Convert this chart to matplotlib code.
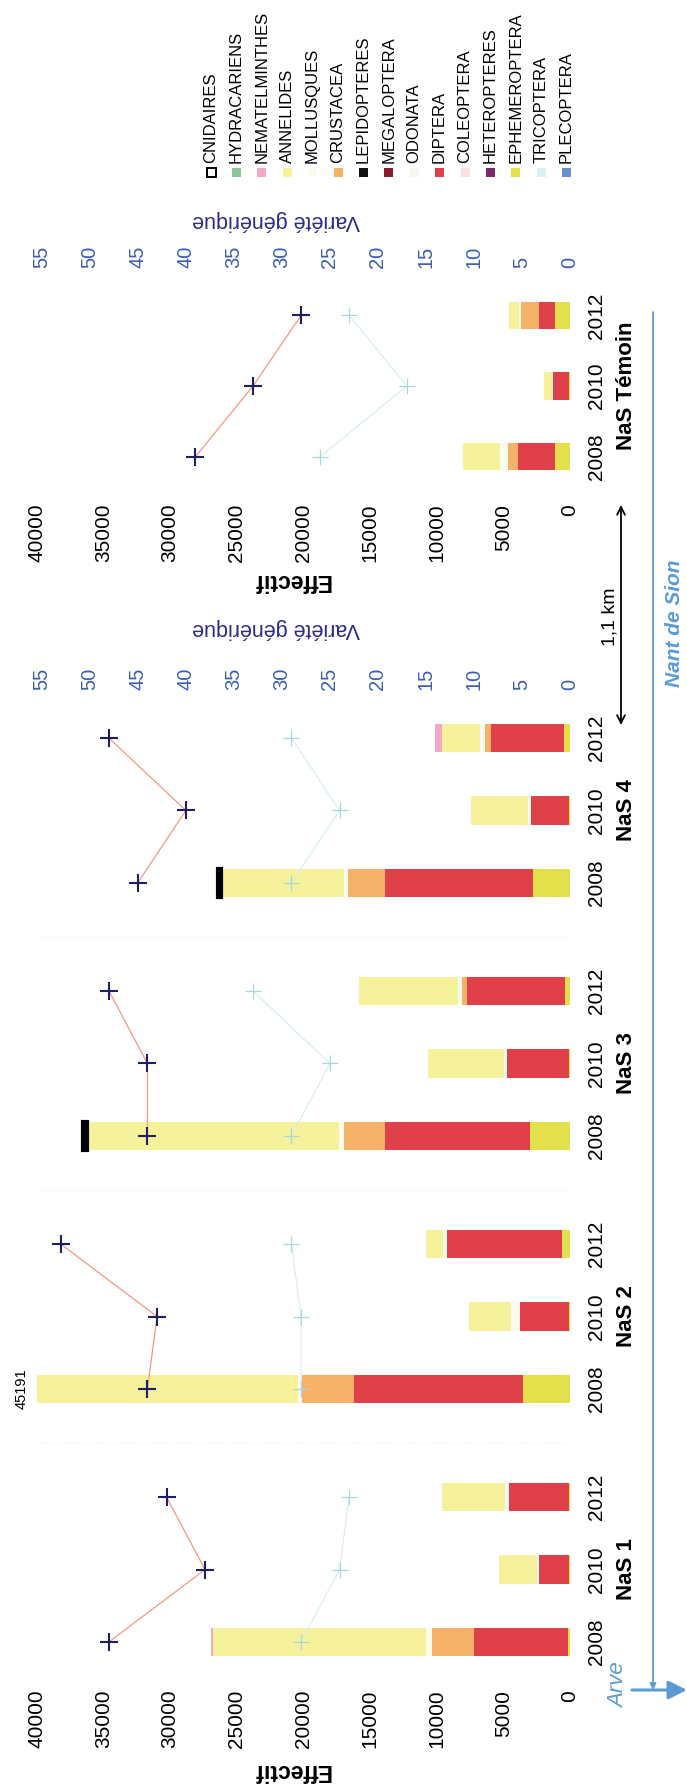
import numpy as np
import matplotlib.pyplot as plt
from matplotlib import transforms
from matplotlib.patches import Rectangle

plt.rcParams['font.family'] = ['Liberation Sans', 'DejaVu Sans']

W, H = 687, 1792

stations = ['NaS 1', 'NaS 2', 'NaS 3', 'NaS 4', 'NaS Témoin']
annees = ['2008', '2010', '2012']

taxons = ['CNIDAIRES', 'HYDRACARIENS', 'NEMATELMINTHES', 'ANNELIDES', 'MOLLUSQUES',
          'CRUSTACEA', 'LEPIDOPTERES', 'MEGALOPTERA', 'ODONATA', 'DIPTERA',
          'COLEOPTERA', 'HETEROPTERES', 'EPHEMEROPTERA', 'TRICOPTERA', 'PLECOPTERA']
couleurs = ['#ffffff', '#8fc494', '#f2a9c8', '#f6f29c', '#fbfbef',
            '#f5b268', '#111111', '#8a1c2c', '#f7f6ee', '#df4049',
            '#fbe0e2', '#7b2a6e', '#e4e04c', '#d8f2f6', '#6a8fd0']

# effectifs : NaS1 2008/2010/2012, NaS2 ..., NaS4 ..., NaS Témoin ...
cnidaires = [0, 0, 0, 0, 0, 0, 350, 0, 0, 250, 0, 0, 0, 0, 0]
hydracariens = [0, 0, 0, 0, 0, 0, 0, 0, 0, 0, 0, 0, 0, 0, 0]
nematelminthes = [100, 0, 0, 0, 0, 0, 0, 0, 0, 0, 0, 500, 0, 0, 0]
annelides = [16000, 2850, 4700, 24741, 3150, 1250, 18900, 5700, 7400, 9200, 4300, 2850, 2750, 600, 750]
mollusques = [450, 200, 330, 300, 650, 300, 380, 250, 300, 330, 200, 400, 580, 80, 150]
crustacea = [3150, 0, 0, 3950, 0, 0, 3050, 0, 380, 2800, 0, 450, 800, 0, 1350]
lepidopteres = [0, 0, 0, 0, 0, 0, 0, 0, 0, 0, 0, 0, 0, 0, 0]
megaloptera = [0, 0, 0, 0, 0, 0, 0, 0, 0, 0, 0, 0, 0, 0, 0]
odonata = [0, 0, 0, 0, 0, 0, 0, 0, 0, 0, 0, 0, 0, 0, 0]
diptera = [7100, 2250, 4500, 12700, 3700, 8650, 10900, 4650, 7350, 11050, 2850, 5450, 2750, 1200, 1200]
coleoptera = [0, 0, 0, 0, 0, 0, 0, 0, 0, 0, 0, 0, 0, 0, 0]
heteropteres = [0, 0, 0, 0, 0, 0, 0, 0, 0, 0, 0, 0, 0, 0, 0]
ephemeroptera = [120, 50, 60, 3500, 50, 600, 3000, 80, 400, 2800, 80, 450, 1130, 40, 1130]
tricoptera = [0, 0, 0, 0, 0, 0, 0, 0, 0, 0, 0, 0, 0, 0, 0]
plecoptera = [0, 0, 0, 0, 0, 0, 0, 0, 0, 0, 0, 0, 0, 0, 0]

# variété générique (deux séries, axe secondaire)
variete_a = [48, 38, 42, 44, 43, 53, 44, 44, 48, 45, 40, 48, 39, 33, 28]
variete_b = [28, 24, 23, 28, 28, 29, 29, 25, 33, 29, 24, 29, 26, 17, 23]

effectifs = [cnidaires, hydracariens, nematelminthes, annelides, mollusques,
             crustacea, lepidopteres, megaloptera, odonata, diptera,
             coleoptera, heteropteres, ephemeroptera, tricoptera, plecoptera]

EFF_MAX = 40000
VAR_MAX = 55.5
BLEU = '#5b9bd5'

fig = plt.figure(figsize=(W / 100, H / 100), dpi=100)


def rect(x0, y_top, x1, y_bot):
    return [x0 / W, 1 - y_bot / H, (x1 - x0) / W, (y_bot - y_top) / H]


def panneau(r, idx_st, ymax):
    ax = fig.add_axes(r)
    pos = np.array([i * 3.5 + j for i in range(len(idx_st)) for j in range(3)])
    idx = [s * 3 + j for s in idx_st for j in range(3)]
    left = np.zeros(len(idx))
    # empilement depuis la base : ordre inverse de la légende
    for nom, col, vals in zip(taxons[::-1], couleurs[::-1], effectifs[::-1]):
        v = np.array(vals, float)[idx]
        m = v > 0
        if nom == 'CNIDAIRES':
            ax.barh(pos[m], v[m], left=left[m], height=0.39, color=col,
                    edgecolor='black', linewidth=3)
        else:
            ax.barh(pos[m], v[m], left=left[m], height=0.39, color=col, linewidth=0)
        left += v
    ax.set_xlim(EFF_MAX, 0)
    ax.set_ylim(-0.5, ymax)
    ax.set_xticks(range(0, EFF_MAX + 1, 5000))
    ax.tick_params(axis='x', length=0, pad=8.5, labelsize=15, labelrotation=90)
    ax.set_yticks(pos)
    ax.set_yticklabels(annees * len(idx_st), rotation=90, va='center')
    ax.yaxis.tick_right()
    ax.tick_params(axis='y', length=0, pad=12, labelsize=15)
    for sp in ax.spines.values():
        sp.set_visible(False)
    ax.axvline(0, color='#ececec', lw=0.8, ls=':', zorder=0)
    for i in range(1, len(idx_st)):
        ax.axhline(i * 3.5 - 0.75, color='#ececec', lw=0.8, ls=':', zorder=0)

    ax2 = ax.twiny()
    ax2.set_xlim(VAR_MAX, 0)
    ax2.set_xticks(range(0, 56, 5))
    ax2.tick_params(axis='x', length=0, pad=9, labelsize=14.5, labelrotation=90,
                    labelcolor='#3b5db5')
    for sp in ax2.spines.values():
        sp.set_visible(False)
    for k in range(len(idx_st)):
        sl = slice(k * 3, k * 3 + 3)
        va = np.array(variete_a, float)[idx][sl]
        vb = np.array(variete_b, float)[idx][sl]
        ax2.plot(vb, pos[sl], color='#d6eded', lw=0.8, zorder=3)
        ax2.plot(vb, pos[sl], ls='none', marker='+', ms=11, mew=0.9,
                 color='#a9d6d6', zorder=4)
        ax2.plot(va, pos[sl], color='#f29a7c', lw=0.9, zorder=5)
        ax2.plot(va, pos[sl], ls='none', marker='+', ms=13, mew=1.5,
                 color='#1d1f66', zorder=6)

    trans = transforms.blended_transform_factory(fig.transFigure, ax.transData)
    for k, s in enumerate(idx_st):
        ax.text(626 / W, pos[k * 3 + 1], stations[s], transform=trans,
                rotation=90, ha='center', va='center', fontsize=16,
                fontweight='bold')
    return ax, pos, idx, left


ax_m, pos_m, idx_m, tot_m = panneau(rect(37, 702, 570, 1678), [0, 1, 2, 3], 13.0)
ax_t, pos_t, idx_t, tot_t = panneau(rect(37, 280, 570, 492), [4], 2.5)

# valeur des barres qui dépassent l'échelle
for p, t in zip(pos_m, tot_m):
    if t > EFF_MAX:
        ax_m.annotate(f'{t:.0f}', xy=(EFF_MAX, p), xytext=(-6, 0),
                      textcoords='offset points', rotation=90, ha='right',
                      va='center', fontsize=10.5, annotation_clip=False)

# couche de décor en pixels
deco = fig.add_axes([0, 0, 1, 1])
deco.set_xlim(0, W)
deco.set_ylim(H, 0)
deco.axis('off')

for yc in (1771, 581):
    deco.text(292, yc, 'Effectif', rotation=180, ha='center', va='center',
              fontsize=16.5, fontweight='bold')
for yc in (629, 220):
    deco.text(276, yc, 'Variété générique', rotation=180, ha='center',
              va='center', fontsize=15.5, color='#2a2a8a')

# légende
for i, (nom, col) in enumerate(zip(taxons, couleurs)):
    x = 211 + i * 25.4
    ec = 'black' if nom == 'CNIDAIRES' else col
    deco.add_patch(Rectangle((x - 4.5, 168.5), 9, 9, facecolor=col,
                             edgecolor=ec, lw=1.4 if nom == 'CNIDAIRES' else 0))
    deco.text(x, 163, nom, rotation=90, ha='center', va='bottom', fontsize=12)

# distance entre stations
deco.annotate('', xy=(621, 505), xytext=(621, 725),
              arrowprops=dict(arrowstyle='<->', color='black', lw=1.3,
                              mutation_scale=14, shrinkA=0, shrinkB=0))
deco.text(610, 617, '1,1 km', rotation=90, ha='center', va='center', fontsize=14)

# cours d'eau
deco.annotate('', xy=(653, 1690), xytext=(653, 312),
              arrowprops=dict(arrowstyle='-|>', color=BLEU, lw=1.3,
                              mutation_scale=9, shrinkA=0, shrinkB=0))
deco.annotate('', xy=(687, 1690), xytext=(632, 1690),
              arrowprops=dict(arrowstyle='-|>', color=BLEU, lw=2.2,
                              mutation_scale=28, shrinkA=0, shrinkB=0))
deco.text(619, 1685, 'Arve', rotation=90, ha='center', va='center',
          fontsize=16, style='italic', color=BLEU)
deco.text(674, 623, 'Nant de Sion', rotation=90, ha='center', va='center',
          fontsize=15, style='italic', fontweight='bold', color=BLEU)

fig.savefig('out.png', dpi=100)
